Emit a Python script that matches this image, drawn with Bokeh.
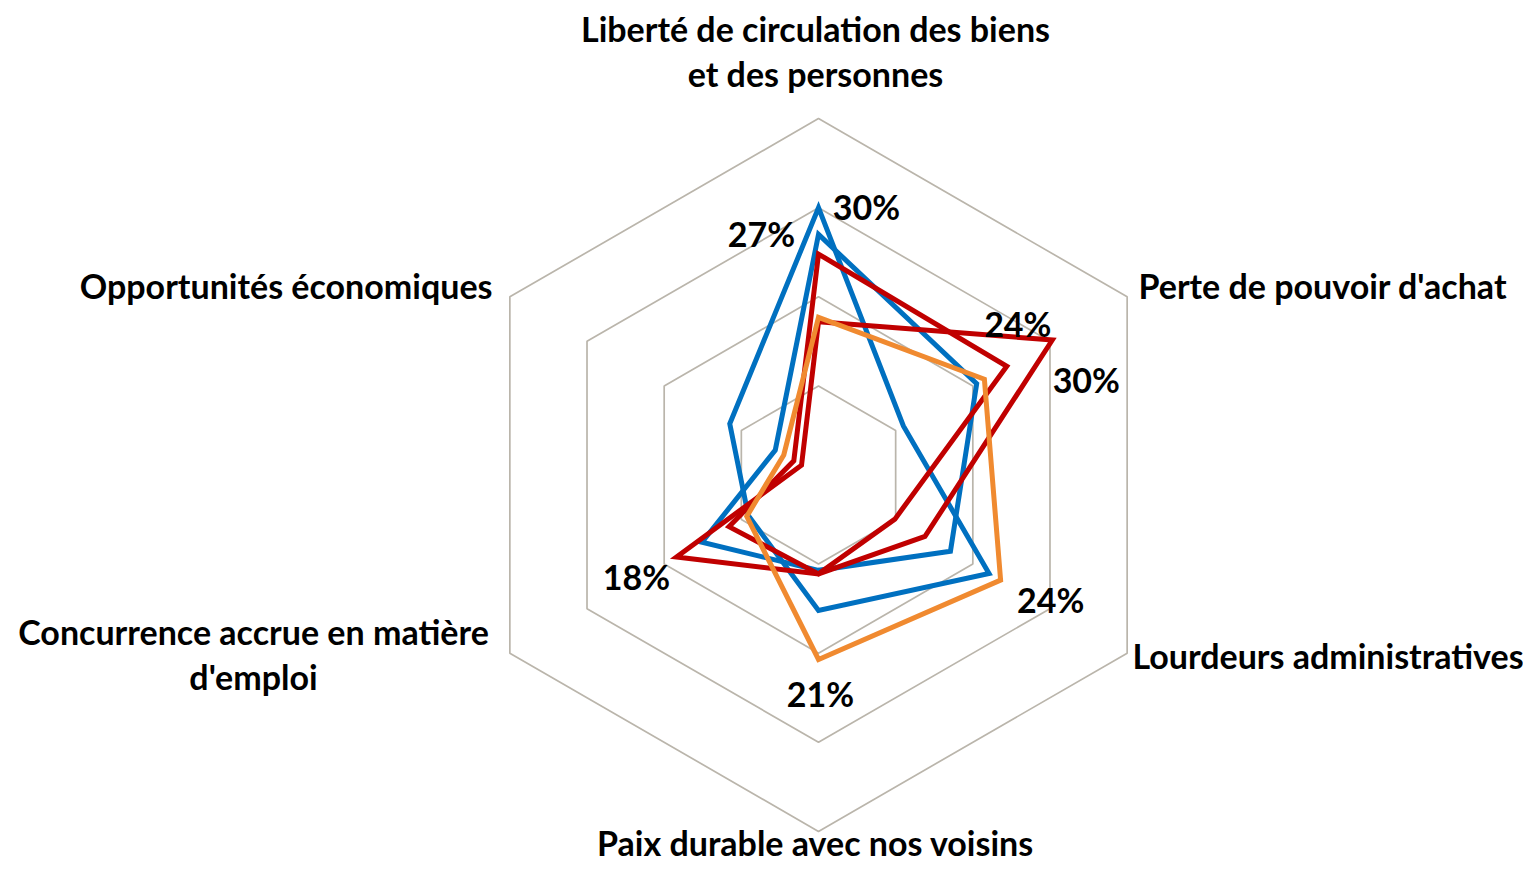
import numpy as np
from bokeh.plotting import figure
from bokeh.models import Grid
from bokeh.embed import file_html
from bokeh.resources import INLINE
from bokeh.core.properties import value

# ---------------- data ----------------
categories = [
    "Liberté de circulation des biens\net des personnes",
    "Perte de pouvoir d'achat",
    "Lourdeurs administratives",
    "Paix durable avec nos voisins",
    "Concurrence accrue en matière\nd'emploi",
    "Opportunités économiques",
]
axis_angles_deg = [90, 30, -30, -90, -150, 150]
ring_values = [10, 20, 30, 40]

blue_a = [30.0, 11.0, 22.1, 15.2, 9.1, 11.5]
blue_b = [27.0, 20.5, 17.1, 10.7, 15.1, 5.6]
red_a = [24.8, 24.4, 9.9, 11.1, 11.6, 3.2]
red_b = [17.2, 30.3, 13.8, 11.1, 18.4, 2.2]
orange = [17.7, 21.5, 23.6, 20.7, 9.3, 4.5]

series = [blue_a, blue_b, red_a, red_b, orange]
series_colors = ["#0070C0", "#0070C0", "#C00000", "#C00000", "#F08A30"]

# data labels: (series index, axis index, dx px, dy px)
labelled_points = [
    (0, 0, 48, -1),
    (1, 0, -57, -1),
    (2, 1, 11, -43),
    (3, 1, 34, 39),
    (4, 2, 50, 19),
    (4, 3, 2, 34),
    (3, 4, -40, 20),
]

# ---------------- layout ----------------
W, H = 1523, 865
CX, CY = 818, 474.5        # centre in canvas px
S = 8.91                   # px per percentage point
FONT = "Lato"
FS = "34px"

p = figure(width=W, height=H, output_backend="svg", toolbar_location=None,
           x_range=(-CX / S, (W - CX) / S), y_range=(-(H - CY) / S, CY / S),
           x_axis_location=None, y_axis_location=None, min_border=0,
           outline_line_color=None, background_fill_color="white",
           border_fill_color="white")
for g in p.select(type=Grid):
    g.visible = False
p.xgrid.visible = False
p.ygrid.visible = False

ang = np.deg2rad(axis_angles_deg)


def polar(vals):
    v = np.asarray(vals, dtype=float)
    return list(v * np.cos(ang)), list(v * np.sin(ang))


def at(X, Y):
    """canvas pixel -> data coordinates"""
    return (X - CX) / S, (CY - Y) / S


# grid rings
for r in ring_values:
    gx, gy = polar([r] * len(categories))
    p.patch(gx, gy, fill_color=None, line_color="#BAB5AB", line_width=1.7)

# series
for vals, col in zip(series, series_colors):
    sx, sy = polar(vals)
    p.patch(sx, sy, fill_color=None, line_color=col, line_width=5,
            line_join="miter")

# data labels
lx, ly, lt = [], [], []
for si, ai, dx, dy in labelled_points:
    v = series[si][ai]
    x = v * np.cos(ang[ai]) + dx / S
    y = v * np.sin(ang[ai]) - dy / S
    lx.append(x); ly.append(y); lt.append(f"{round(v)}%")
p.text(lx, ly, text=lt, text_font=value(FONT), text_font_style="bold",
       text_font_size=FS, text_color="black", text_align="center",
       text_baseline="middle")

# category labels: anchor (canvas X, Y of first line centre, align)
cat_anchor = [
    (815, 28, "center"),
    (1138, 285, "left"),
    (1132, 655, "left"),
    (815, 842, "center"),
    (253, 631, "center"),
    (492, 285, "right"),
]
LINE_STEP = 45
for name, (X, Y, al) in zip(categories, cat_anchor):
    for k, line in enumerate(name.split("\n")):
        x, y = at(X, Y + k * LINE_STEP)
        p.text([x], [y], text=[line], text_font=value(FONT),
               text_font_style="bold", text_font_size=FS, text_color="black",
               text_align=al, text_baseline="middle")

open("out.html", "w").write(file_html(p, INLINE))
